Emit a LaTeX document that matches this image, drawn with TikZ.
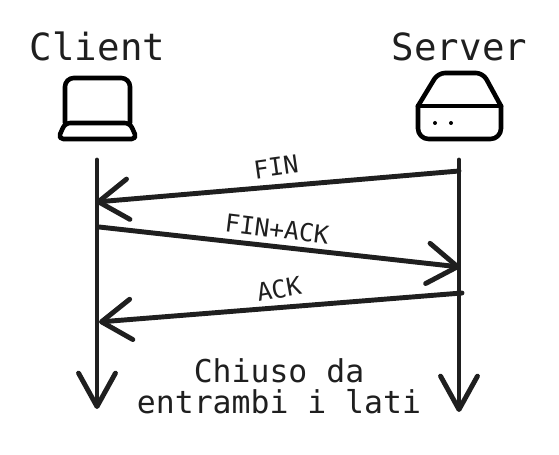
\documentclass[tikz,border=0pt]{standalone}
\usepackage{fontspec}
\setmonofont{DejaVu Sans Mono}
\usetikzlibrary{arrows.meta}

\tikzset{
	inkline/.style = {draw = black!88, line width = 2.8pt, line cap = round},
	msgarrow/.style = {inkline, -{Straight Barb[length = 17pt, width = 23pt, round]}},
	timearrow/.style = {inkline, -{Straight Barb[length = 19pt, width = 21pt, round]}},
	icon/.style = {draw = black, line width = 2.6pt, line cap = round, line join = round},
	titlelabel/.style = {text = black!88, inner sep = 0pt, anchor = base, font = \ttfamily\fontsize{21.3}{24}\selectfont},
	msglabel/.style = {text = black!88, inner sep = 0pt, font = \ttfamily\fontsize{14.1}{17}\selectfont},
	notelabel/.style = {text = black!88, inner sep = 0pt, align = center, font = \ttfamily\fontsize{17.9}{17.6}\selectfont}
}

\begin{document}
\begin{tikzpicture}[x = 0.02cm, y = -0.02cm]
	\def\cx{97};
	\def\sx{459};

	\useasboundingbox (0,0) rectangle (559,455);

	\node [titlelabel] (client) at (97.5,61) {Client};
	\node [titlelabel] (server) at (459.5,61) {Server};

	% laptop
	\draw [icon, rounded corners = 5pt] (65,123) -- (65,78) -- (130,78) -- (130,123);
	\draw [icon, rounded corners = 3pt] (65,123) -- (130,123) -- (137,139) -- (58,139) -- cycle;

	% server box
	\draw [icon, rounded corners = 4pt] (418,106) -- (438,73) -- (483,73) -- (501,106);
	\draw [icon, rounded corners = 6pt] (418,106) -- (418,139) -- (501,139) -- (501,106);
	\draw [icon] (418,106) -- (501,106);
	\fill (435,123) circle [radius = 2];
	\fill (451,123) circle [radius = 2];

	\coordinate (clienttop) at (\cx,160);
	\coordinate (clientend) at (97,409);
	\coordinate (servertop) at (\sx,160);
	\coordinate (serverend) at (\sx,412);

	\draw [timearrow] (clienttop) -- (clientend);
	\draw [timearrow] (servertop) -- (serverend);

	\coordinate (finstart) at (\sx,171);
	\coordinate (finend) at (96,202);
	\coordinate (finackstart) at (99,227);
	\coordinate (finackend) at (460,267);
	\coordinate (ackstart) at (462,293);
	\coordinate (ackend) at (99,322);

	\draw [msgarrow] (finstart) -- (finend);
	\draw [msgarrow] (finackstart) -- (finackend);
	\draw [msgarrow] (ackstart) -- (ackend);

	\node [msglabel, rotate = 8] (fin) at (276,167) {FIN};
	\node [msglabel, rotate = -7] (finack) at (277,229) {FIN+ACK};
	\node [msglabel, rotate = 10] (ack) at (279,289) {ACK};

	\node [notelabel] (closed) at (279,386) {Chiuso da\\entrambi i lati};
\end{tikzpicture}
\end{document}
